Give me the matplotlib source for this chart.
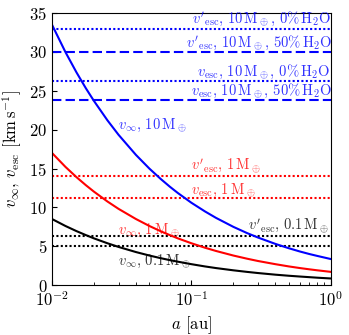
import matplotlib
matplotlib.use("Agg")

import matplotlib.pyplot as plt

plt.rcParams["mathtext.fontset"] = "cm"
plt.rcParams["font.family"] = ["cmr10", "DejaVu Serif"]
plt.rcParams["axes.formatter.use_mathtext"] = True
plt.rcParams["font.size"] = 11

# ── Data ───────────────────────────────────────────────────────────
a_au = [0.01, 0.0125, 0.015, 0.0175, 0.02, 0.025, 0.03, 0.04, 0.05, 0.06, 0.07, 0.08,
        0.1, 0.125, 0.15, 0.2, 0.25, 0.3, 0.4, 0.5, 0.6, 0.7, 0.8, 1.0]
vinf_10 = [33.5, 29.96, 27.35, 25.32, 23.69, 21.19, 19.34, 16.75, 14.98, 13.68, 12.66, 11.84,
           10.59, 9.48, 8.65, 7.49, 6.70, 6.12, 5.30, 4.74, 4.32, 4.00, 3.75, 3.35]
vinf_1 = [17.0, 15.20, 13.88, 12.85, 12.02, 10.75, 9.81, 8.50, 7.60, 6.94, 6.43, 6.01,
          5.38, 4.81, 4.39, 3.80, 3.40, 3.10, 2.69, 2.40, 2.19, 2.03, 1.90, 1.70]
vinf_01 = [8.5, 7.60, 6.94, 6.43, 6.01, 5.38, 4.91, 4.25, 3.80, 3.47, 3.21, 3.01,
           2.69, 2.40, 2.19, 1.90, 1.70, 1.55, 1.34, 1.20, 1.10, 1.02, 0.95, 0.85]

# escape speeds: (value, colour, linestyle)
vesc_lines = [
    (33.0, "blue", ":"),   # v'esc 10 ME 0% H2O
    (30.0, "blue", "--"),  # v'esc 10 ME 50% H2O
    (26.2, "blue", ":"),   # vesc 10 ME 0% H2O
    (23.8, "blue", "--"),  # vesc 10 ME 50% H2O
    (14.0, "red", ":"),    # v'esc 1 ME
    (11.2, "red", ":"),    # vesc 1 ME
    (6.3, "black", ":"),   # v'esc 0.1 ME
    (5.0, "black", ":"),   # vesc 0.1 ME
]

ME = r"\mathrm{M}_\oplus"
labels = [
    # text, x, y, colour, ha
    (r"$v'_{\rm esc},\,10\," + ME + r",\,0\%\,\mathrm{H_2O}$", 1.0, 34.2, "blue", "right"),
    (r"$v'_{\rm esc},\,10\," + ME + r",\,50\%\,\mathrm{H_2O}$", 1.02, 31.2, "blue", "right"),
    (r"$v_{\rm esc},\,10\," + ME + r",\,0\%\,\mathrm{H_2O}$", 1.0, 27.4, "blue", "right"),
    (r"$v_{\rm esc},\,10\," + ME + r",\,50\%\,\mathrm{H_2O}$", 1.02, 25.0, "blue", "right"),
    (r"$v_\infty,\,10\," + ME + r"$", 0.0297, 20.6, "blue", "left"),
    (r"$v'_{\rm esc},\,1\," + ME + r"$", 0.099, 15.3, "red", "left"),
    (r"$v_{\rm esc},\,1\," + ME + r"$", 0.099, 12.2, "red", "left"),
    (r"$v_\infty,\,1\," + ME + r"$", 0.0297, 7.1, "red", "left"),
    (r"$v'_{\rm esc},\,0.1\," + ME + r"$", 0.975, 7.6, "black", "right"),
    (r"$v_\infty,\,0.1\," + ME + r"$", 0.0297, 3.0, "black", "left"),
]

# ── Plot ────────────────────────────────────────────────────────────
fig = plt.figure(figsize=(3.49, 3.35), dpi=100)
ax = fig.add_axes([0.149, 0.149, 0.799, 0.812])

for v, c, ls in vesc_lines:
    dashes = (1, 1.1) if ls == ":" else (4.5, 2.0)
    ax.axhline(v, color=c, lw=1.5, dashes=dashes)

ax.plot(a_au, vinf_10, color="blue", lw=1.5)
ax.plot(a_au, vinf_1, color="red", lw=1.5)
ax.plot(a_au, vinf_01, color="black", lw=1.5)

for txt, x, y, c, ha in labels:
    ax.text(x, y, txt, color=c, ha=ha, va="center", fontsize=10.5, alpha=0.8)

ax.set_xscale("log")
ax.set_xlim(1e-2, 1)
ax.set_ylim(0, 35)
ax.set_xlabel(r"$a$ [au]", fontsize=12)
ax.set_ylabel(r"$v_\infty,\,v_{\rm esc}$ [km$\,$s$^{-1}$]", fontsize=12)
ax.tick_params(which="both", direction="in")
ax.tick_params(labelsize=12)

fig.savefig("out.png", dpi=100)
